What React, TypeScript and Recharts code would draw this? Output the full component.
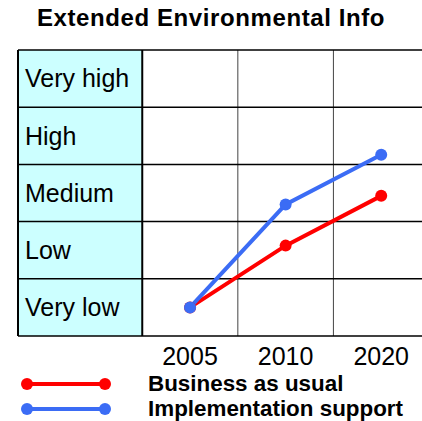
import { LineChart, Line, XAxis, YAxis, ReferenceArea, ReferenceLine } from "recharts";

const years = ["2005", "2010", "2020"];
const levels = ["Very low", "Low", "Medium", "High", "Very high"];
const businessAsUsual = [1, 2.08, 2.95];
const implementationSupport = [1, 2.8, 3.67];

const series = [
  { key: "business", name: "Business as usual", color: "#ff0000" },
  { key: "implementation", name: "Implementation support", color: "#3b6cf5" },
];

const data = years.map((year, i) => ({
  x: i,
  year,
  business: businessAsUsual[i],
  implementation: implementationSupport[i],
}));

const font = "'Liberation Sans', Arial, Helvetica, sans-serif";

// row borders sit between the levels, column borders between the years
const rowLines = [0, ...levels.map((_, i) => i + 1)].map((v) => v + 0.5);
const colLines = years.map((_, i) => i - 0.5);

export default function App() {
  return (
    <div
      style={{
        position: "absolute",
        left: 0,
        top: 0,
        width: 422,
        height: 421,
        overflow: "hidden",
        background: "#fff",
        fontFamily: font,
      }}
    >
      <div
        style={{
          position: "absolute",
          left: 0,
          top: 4,
          width: 422,
          textAlign: "center",
          fontSize: 24,
          fontWeight: "bold",
          letterSpacing: 0.6,
          lineHeight: "28px",
        }}
      >
        Extended Environmental Info
      </div>
      <LineChart
        width={440}
        height={421}
        data={data}
        margin={{ top: 50, left: 18, right: 11, bottom: 55 }}
      >
        <XAxis
          dataKey="x"
          type="number"
          domain={[-1.8, 2.5]}
          ticks={[0, 1, 2]}
          tickFormatter={(v) => years[v]}
          axisLine={false}
          tickLine={false}
          tickMargin={5}
          height={30}
          tick={{ fontSize: 25, fontFamily: font, fill: "#000" }}
        />
        <YAxis type="number" domain={[0.5, 5.5]} hide />
        {levels.map((name, i) => (
          <ReferenceArea
            key={name}
            x1={-1.8}
            x2={-0.5}
            y1={i + 0.5}
            y2={i + 1.5}
            fill="#ccffff"
            fillOpacity={1}
            stroke="none"
            label={{
              value: name,
              position: "insideLeft",
              offset: 7,
              fontSize: 25,
              fontFamily: font,
              fill: "#000",
            }}
          />
        ))}
        {colLines.map((v, i) => (
          <ReferenceLine
            key={"c" + v}
            x={v}
            stroke={i === 0 ? "#000" : "#444"}
            strokeWidth={i === 0 ? 2 : 1}
          />
        ))}
        <ReferenceLine x={-1.8} stroke="#000" strokeWidth={2} />
        {rowLines.map((v) => (
          <ReferenceLine key={"r" + v} y={v} stroke="#000" strokeWidth={1.5} />
        ))}
        {series.map((s) => (
          <Line
            key={s.key}
            dataKey={s.key}
            name={s.name}
            stroke={s.color}
            strokeWidth={4}
            dot={{ r: 6, fill: s.color, stroke: s.color, strokeWidth: 0 }}
            isAnimationActive={false}
          />
        ))}
      </LineChart>
      {series.map((s, i) => (
        <div
          key={s.key}
          style={{
            position: "absolute",
            left: 20,
            top: 371 + i * 25,
            height: 26,
            display: "flex",
            alignItems: "center",
          }}
        >
          <svg width={94} height={26}>
            <line x1={7} y1={13} x2={85} y2={13} stroke={s.color} strokeWidth={4} />
            <circle cx={7} cy={13} r={6} fill={s.color} />
            <circle cx={85} cy={13} r={6} fill={s.color} />
          </svg>
          <span style={{ marginLeft: 34, fontSize: 22.4, fontWeight: "bold", whiteSpace: "nowrap" }}>
            {s.name}
          </span>
        </div>
      ))}
    </div>
  );
}
